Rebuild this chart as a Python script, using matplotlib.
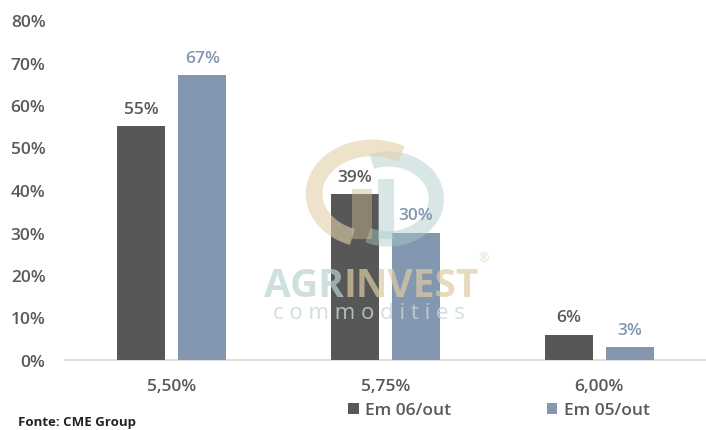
import matplotlib
matplotlib.use("Agg")
import matplotlib.pyplot as plt
from matplotlib.patches import Rectangle
import numpy as np

categorias = ["5,50%", "5,75%", "6,00%"]
em_06_out = [55, 39, 6]
em_05_out = [67, 30, 3]
yticks = [0, 10, 20, 30, 40, 50, 60, 70, 80]

cor_escura = "#575757"
cor_azul = "#8497b0"
cor_texto = "#595959"

plt.rcParams["font.family"] = ["Open Sans", "DejaVu Sans"]

fig = plt.figure(figsize=(7.06, 4.31), dpi=100)
ax = fig.add_axes([65 / 706, 70 / 431, 641 / 706, 340 / 431])

x = np.arange(len(categorias))
largura = 0.225
desloc = 0.143

b1 = ax.bar(x - desloc, em_06_out, largura, color=cor_escura, label="Em 06/out", zorder=3)
b2 = ax.bar(x + desloc, em_05_out, largura, color=cor_azul, label="Em 05/out", zorder=3)

for barras, valores, cor in [(b1, em_06_out, cor_texto), (b2, em_05_out, cor_azul)]:
    for b, v in zip(barras, valores):
        ax.annotate(f"{v}%", (b.get_x() + b.get_width() / 2, v),
                    xytext=(0, 7), textcoords="offset points",
                    ha="center", va="bottom", fontsize=12.5,
                    fontweight="semibold", color=cor, zorder=5)

ax.set_xlim(-0.5, 2.5)
ax.set_ylim(0, 80)
ax.set_yticks(yticks)
ax.set_yticklabels([f"{t}%" for t in yticks])
ax.set_xticks(x)
ax.set_xticklabels(categorias)
ax.tick_params(axis="y", length=0, pad=14, labelsize=12.5, labelcolor=cor_texto)
ax.tick_params(axis="x", length=0, pad=13, labelsize=12.5, labelcolor=cor_texto)
for lbl in ax.get_xticklabels() + ax.get_yticklabels():
    lbl.set_fontweight("semibold")

for s in ["top", "right", "left"]:
    ax.spines[s].set_visible(False)
ax.spines["bottom"].set_color("#d9d9d9")
ax.spines["bottom"].set_linewidth(1.2)


# marca d'agua (logo): dois arcos e duas hastes
def arco(cx, cy, a, b, t1, t2, cor, lw, alpha):
    t = np.radians(np.linspace(t1, t2, 80))
    ax.plot(cx + a * np.cos(t), cy + b * np.sin(t), color=cor, lw=lw,
            alpha=alpha, solid_capstyle="butt", zorder=4)


arco(1.013, 37.9, 0.225, 9.4, -115, 110, "#a9cbc8", 11, 0.45)
arco(0.938, 39.1, 0.272, 10.8, 60, 250, "#e3d0a8", 12, 0.6)
ax.add_patch(Rectangle((0.844, 28.5), 0.094, 11.7, facecolor="#cdb88e",
                       alpha=0.45, edgecolor="none", zorder=4))
ax.add_patch(Rectangle((0.966, 28.5), 0.075, 14, facecolor="#a9cbc8",
                       alpha=0.45, edgecolor="none", zorder=4))

fig.text(0.487, 0.335, "AGR", color="#b9d3d0", alpha=0.7, fontsize=28,
         ha="right", va="center", fontweight="bold")
fig.text(0.487, 0.335, "INVEST", color="#dccba4", alpha=0.7, fontsize=28,
         ha="left", va="center", fontweight="bold")
fig.text(0.685, 0.4, "®", color="#dccba4", alpha=0.6, fontsize=9,
         ha="center", va="center")
fig.text(0.523, 0.273, "c o m m o d i t i e s", color="#c8d8d6", alpha=0.8,
         fontsize=16, ha="center", va="center")

leg = fig.legend(handles=[b1, b2], labels=["Em 06/out", "Em 05/out"],
                 loc="center", bbox_to_anchor=(0.707, 0.046), ncol=2,
                 frameon=False, fontsize=12.5, handlelength=0.6,
                 handleheight=0.6, handletextpad=0.4, columnspacing=5.5)
for t in leg.get_texts():
    t.set_color(cor_texto)
    t.set_fontweight("semibold")

fig.text(18 / 706, 1 - 423 / 431, "Fonte: CME Group", fontsize=9.5,
         fontweight="bold", color="#222222", va="center", ha="left")

fig.savefig("out.png", dpi=100, facecolor="white")
